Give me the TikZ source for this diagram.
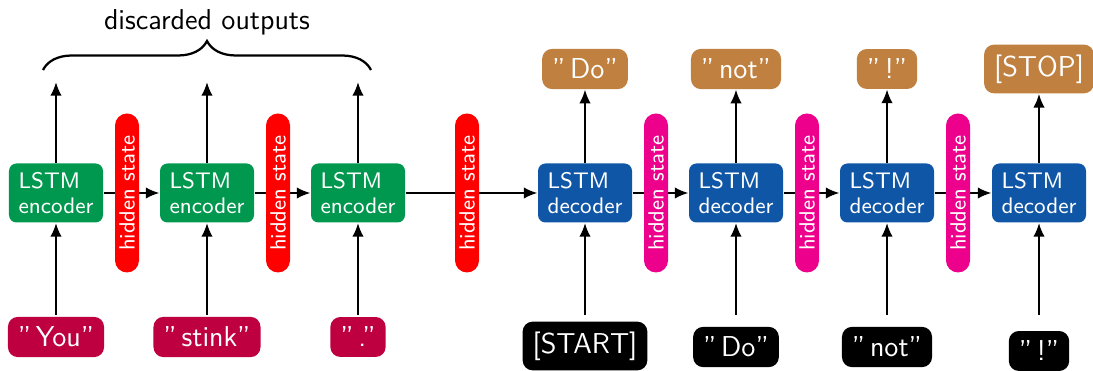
\documentclass[tikz,border=0pt]{standalone}
\usetikzlibrary{positioning,arrows.meta,decorations.pathreplacing}
\definecolor{encgreen}{RGB}{0,152,78}
\definecolor{decblue}{RGB}{16,86,166}
\definecolor{inred}{RGB}{190,0,64}
\definecolor{outbrown}{RGB}{192,128,64}
\definecolor{hidred}{RGB}{255,0,0}
\definecolor{hidpink}{RGB}{236,0,140}
\tikzset{
  lstm/.style={rounded corners=3pt, text=white, align=left, minimum width=37.6pt, minimum height=23.6pt, inner sep=3pt, font=\sffamily\fontsize{9}{10}\selectfont},
  enc/.style={lstm, fill=encgreen},
  dec/.style={lstm, fill=decblue},
  hidden/.style={rotate=90, rounded corners=4.8pt, text=white, minimum width=63.6pt, minimum height=9.6pt, inner sep=1pt, font=\sffamily\fontsize{8.8}{10}\selectfont},
  word/.style={rounded corners=4pt, text=white, inner sep=4pt, font=\sffamily\fontsize{11.5}{13}\selectfont},
  arr/.style={-{Latex[length=5.5pt,width=4.6pt]}, line width=0.8pt},
}

\begin{document}
\begin{tikzpicture}[x=0.4pt,y=-0.4pt]
        \useasboundingbox (0,0) rectangle (1093,371);
        % encoder and decoder cells
        \node[enc] (enc1) at (56,193) {LSTM\\encoder};
        \node[enc] (enc2) at (207,193) {LSTM\\encoder};
        \node[enc] (enc3) at (358,193) {LSTM\\encoder};
        \node[dec] (dec1) at (585,193) {LSTM\\decoder};
        \node[dec] (dec2) at (736,193) {LSTM\\decoder};
        \node[dec] (dec3) at (887,193) {LSTM\\decoder};
        \node[dec] (dec4) at (1039,193) {LSTM\\decoder};
        % input words
        \node[word, fill=inred] (in1) at (56,337) {''\,You''};
        \node[word, fill=inred] (in2) at (207,337) {''\,stink''};
        \node[word, fill=inred] (in3) at (358,337) {''\,.''};
        \node[word, fill=black] (in4) at (585,346) {[START]};
        \node[word, fill=black] (in5) at (736,347) {''\,Do''};
        \node[word, fill=black] (in6) at (887,347) {''\,not''};
        \node[word, fill=black] (in7) at (1039,351) {''\,!''};
        % output words
        \node[word, fill=outbrown] (out1) at (585,69) {''\,Do''};
        \node[word, fill=outbrown] (out2) at (736,69) {''\,not''};
        \node[word, fill=outbrown] (out3) at (887,69) {''\,!''};
        \node[word, fill=outbrown] (out4) at (1039,69) {[STOP]};
        % free ends
        \coordinate (s1) at (56,315);
        \coordinate (s2) at (207,315);
        \coordinate (s3) at (358,315);
        \coordinate (s4) at (585,315);
        \coordinate (s5) at (736,315);
        \coordinate (s6) at (887,315);
        \coordinate (s7) at (1039,315);
        \coordinate (e1) at (56,82);
        \coordinate (e2) at (207,82);
        \coordinate (e3) at (358,82);
        % inputs into cells
        \draw[arr] (s1) -- (enc1);
        \draw[arr] (s2) -- (enc2);
        \draw[arr] (s3) -- (enc3);
        \draw[arr] (s4) -- (dec1);
        \draw[arr] (s5) -- (dec2);
        \draw[arr] (s6) -- (dec3);
        \draw[arr] (s7) -- (dec4);
        % outputs
        \draw[arr] (enc1) -- (e1);
        \draw[arr] (enc2) -- (e2);
        \draw[arr] (enc3) -- (e3);
        \draw[arr] (dec1) -- (out1);
        \draw[arr] (dec2) -- (out2);
        \draw[arr] (dec3) -- (out3);
        \draw[arr] (dec4) -- (out4);
        % hidden state chain
        \draw[arr] (enc1) -- (enc2);
        \draw[arr] (enc2) -- (enc3);
        \draw[arr] (enc3) -- (dec1);
        \draw[arr] (dec1) -- (dec2);
        \draw[arr] (dec2) -- (dec3);
        \draw[arr] (dec3) -- (dec4);
        \node[hidden, fill=hidred] (h1) at (127,193) {hidden state};
        \node[hidden, fill=hidred] (h2) at (278,193) {hidden state};
        \node[hidden, fill=hidred] (h3) at (467,193) {hidden state};
        \node[hidden, fill=hidpink] (h4) at (656,193) {hidden state};
        \node[hidden, fill=hidpink] (h5) at (807,193) {hidden state};
        \node[hidden, fill=hidpink] (h6) at (958,193) {hidden state};
        % brace over discarded outputs
        \coordinate (bl) at (43,70);
        \coordinate (br) at (371,70);
        \draw[decorate, decoration={brace, amplitude=11.6pt}, line width=0.9pt] (bl) -- (br);
        \node[font=\sffamily\fontsize{11.5}{13}\selectfont] (disc) at (207,22) {discarded outputs};
    \end{tikzpicture}
\end{document}
